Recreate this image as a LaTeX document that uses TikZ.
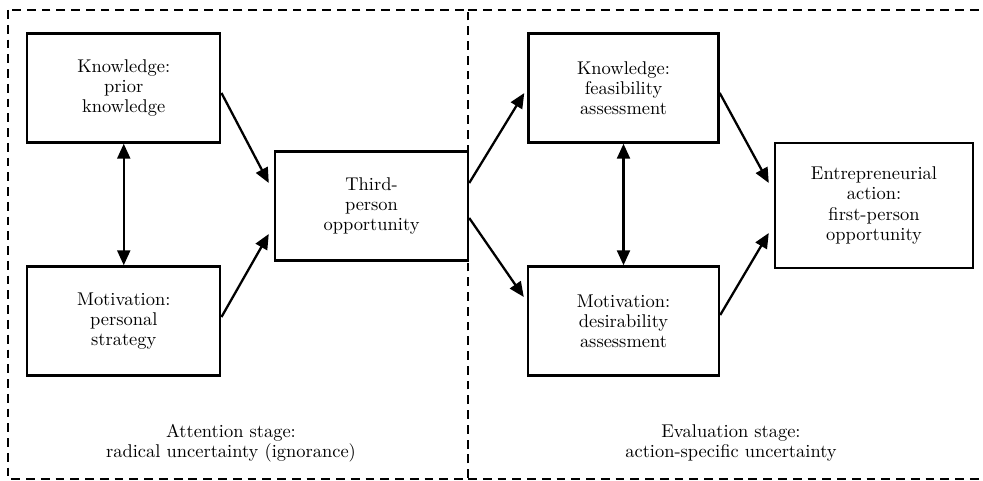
\documentclass[tikz,border=0pt]{standalone}
\usepackage{tikz}
\usetikzlibrary{arrows.meta,positioning}

\begin{document}
\begin{tikzpicture}[
    box/.style={rectangle, draw=black, line width=1.4pt, minimum width=3.86cm, minimum height=2.18cm,
                inner sep=2pt, align=center, font=\fontsize{10.5}{11.4}\selectfont},
    stage/.style={align=center, font=\fontsize{10.5}{11.4}\selectfont},
    frame/.style={line width=1.1pt, dash pattern=on 5pt off 3.4pt},
    a/.style={-{Triangle[length=3mm, width=2.6mm]}, line width=1.3pt},
    aa/.style={{Triangle[length=3mm, width=2.6mm]}-{Triangle[length=3mm, width=2.6mm]}, line width=1.3pt}
]
    \useasboundingbox (0,0) rectangle (19.66,-9.62);
    % stage frames
    \draw[frame] (0.16,-0.2) rectangle (9.36,-9.58);
    \draw[frame] (9.36,-0.2) -- (19.66,-0.2);
    \draw[frame] (9.36,-9.58) -- (19.66,-9.58);

    \node[box] (kprior) at (2.475,-1.76) {Knowledge:\\ prior\\ knowledge};
    \node[box] (mpers) at (2.475,-6.42) {Motivation:\\ personal\\ strategy};
    \node[box] (third) at (7.43,-4.12) {Third-\\ person\\ opportunity};
    \node[box, minimum width=3.8cm] (kfeas) at (12.47,-1.76) {Knowledge:\\ feasibility\\ assessment};
    \node[box, minimum width=3.82cm] (mdes) at (12.47,-6.42) {Motivation:\\ desirability\\ assessment};
    \node[box, minimum width=3.96cm, minimum height=2.5cm] (act) at (17.48,-4.11)
        {Entrepreneurial\\ action:\\ first-person\\ opportunity};

    \node[stage] (att) at (4.62,-8.86) {Attention stage:\\ radical uncertainty (ignorance)};
    \node[stage] (eval) at (14.62,-8.86) {Evaluation stage:\\ action-specific uncertainty};

    % attention stage
    \draw[aa] (kprior) -- (mpers);
    \draw[a] ([yshift=-0.1cm]kprior.east) -- ([xshift=-0.1cm, yshift=0.46cm]third.west);
    \draw[a] ([yshift=0.08cm]mpers.east) -- ([xshift=-0.1cm, yshift=-0.56cm]third.west);
    % evaluation stage
    \draw[a] ([yshift=0.46cm]third.east) -- ([xshift=-0.06cm, yshift=-0.1cm]kfeas.west);
    \draw[a] ([yshift=-0.24cm]third.east) -- ([xshift=-0.06cm, yshift=0.48cm]mdes.west);
    \draw[aa] (kfeas) -- (mdes);
    \draw[a] ([yshift=-0.1cm]kfeas.east) -- ([xshift=-0.1cm, yshift=0.45cm]act.west);
    \draw[a] ([yshift=0.12cm]mdes.east) -- ([xshift=-0.1cm, yshift=-0.55cm]act.west);
\end{tikzpicture}
\end{document}
